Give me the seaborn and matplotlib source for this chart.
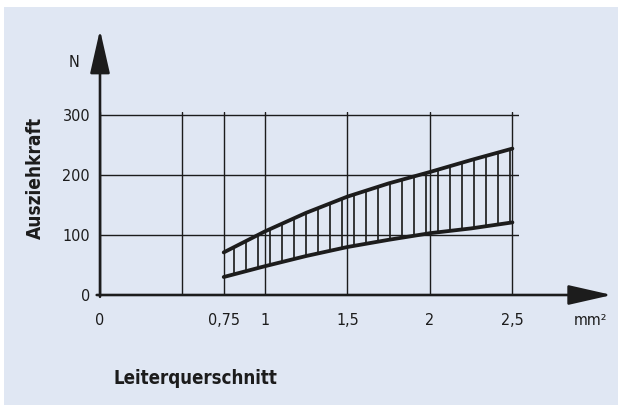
import matplotlib
matplotlib.use('Agg')
import matplotlib.pyplot as plt
import seaborn as sns
from matplotlib.patches import Rectangle

# data
querschnitt = [0.75, 1.0, 1.25, 1.5, 1.75, 2.0, 2.25, 2.5]
kraft_max = [71, 106, 137, 164, 186, 205, 225, 244]
kraft_min = [30, 48, 65, 80, 92, 103, 111, 121]
x_ticks = [0, 0.5, 0.75, 1, 1.5, 2, 2.5]
x_labels = ['0', '', '0,75', '1', '1,5', '2', '2,5']
y_ticks = [0, 100, 200, 300]
y_labels = ['0', '100', '200', '300']

BG = '#E0E7F3'
INK = '#1c1c1c'

sns.set_style('white')
plt.rcParams['font.family'] = ['DejaVu Sans']
plt.rcParams['font.stretch'] = 'condensed'
plt.rcParams['hatch.linewidth'] = 1.7

fig = plt.figure(figsize=(622 / 72, 405 / 72), dpi=72, facecolor='white')
fig.add_artist(Rectangle((4 / 622, 0), 614 / 622, 398 / 405,
                         transform=fig.transFigure, facecolor=BG,
                         edgecolor='none', zorder=-10))

ax = fig.add_axes([100 / 622, 110 / 405, 419 / 622, 183 / 405])
ax.set_facecolor('none')
ax.set_xlim(0, 2.54)
ax.set_ylim(0, 305)
for s in ax.spines.values():
    s.set_visible(False)

ax.set_xticks(x_ticks)
ax.set_xticklabels(x_labels)
ax.set_yticks(y_ticks)
ax.set_yticklabels(y_labels)
ax.tick_params(axis='x', direction='out', length=6, width=1.5, pad=12,
               labelsize=16, colors=INK)
ax.tick_params(axis='y', direction='out', length=7, width=1.5, pad=3,
               labelsize=16, colors=INK)
ax.grid(True, color=INK, linewidth=1.4)
ax.set_axisbelow(True)

# hatched band between the two curves
ax.fill_between(querschnitt, kraft_min, kraft_max, facecolor='none',
                edgecolor=INK, hatch='|', linewidth=0, zorder=2)
sns.lineplot(x=querschnitt, y=kraft_max, ax=ax, color=INK, linewidth=3.8, zorder=3)
sns.lineplot(x=querschnitt, y=kraft_min, ax=ax, color=INK, linewidth=3.8, zorder=3)

# axes with arrows
arrow = dict(arrowstyle='-|>,head_length=2.2,head_width=0.5', color=INK,
             lw=2.6, mutation_scale=17, shrinkA=0, shrinkB=0)
ax.annotate('', xy=(3.103, 0), xytext=(-0.02, 0), arrowprops=arrow,
            annotation_clip=False)
ax.annotate('', xy=(0, 442), xytext=(0, -3), arrowprops=arrow,
            annotation_clip=False)

ax.text(-0.158, 388, 'N', fontsize=16, color=INK, ha='center', va='center')
ax.text(2.976, -42, 'mm²', fontsize=16, color=INK, ha='center', va='center')
ax.text(-0.394, 195, 'Ausziehkraft', fontsize=19, fontweight='bold', color=INK,
        rotation=90, ha='center', va='center')
ax.text(0.079, -140, 'Leiterquerschnitt', fontsize=18.6, fontweight='bold',
        color=INK, ha='left', va='center')

fig.savefig('out.png', dpi=72, facecolor='white')
